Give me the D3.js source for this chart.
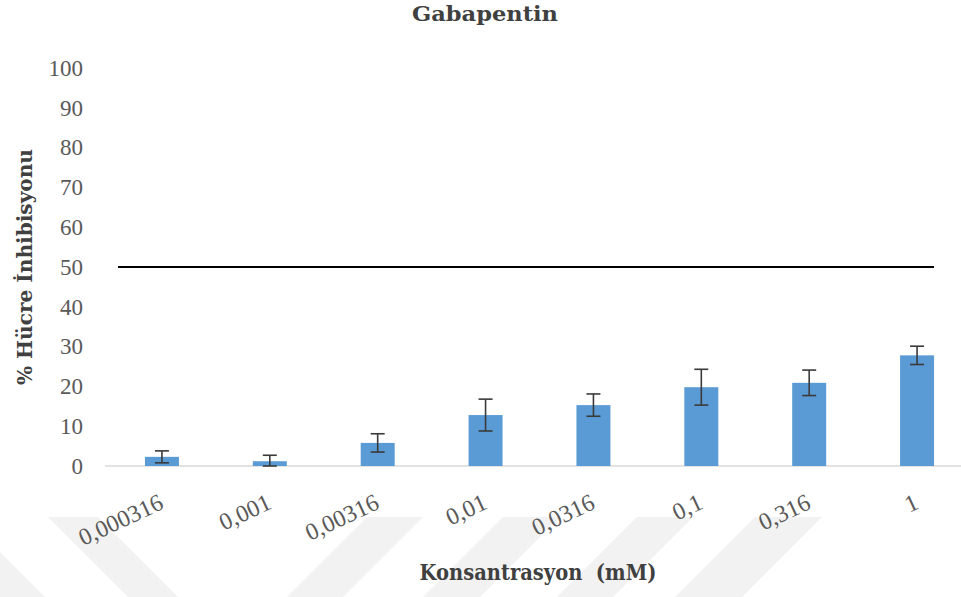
<!DOCTYPE html>
<html>
<head>
<meta charset="utf-8">
<script src="https://cdn.jsdelivr.net/npm/d3@7"></script>
<style>
  html, body { margin: 0; padding: 0; background: #ffffff; }
  svg { display: block; }
</style>
</head>
<body>
<svg id="chart" width="961" height="597"></svg>
<script>
// ---- data ----
const categories = ["0,000316", "0,001", "0,00316", "0,01", "0,0316", "0,1", "0,316", "1"];
const inhibition = [2.3, 1.2, 5.8, 12.8, 15.3, 19.8, 20.9, 27.8];
const errors = [1.5, 1.5, 2.3, 4.0, 2.8, 4.5, 3.2, 2.3];
const yTicks = [0, 10, 20, 30, 40, 50, 60, 70, 80, 90, 100];
const threshold = [50];
const chartTitle = "Gabapentin";
const xTitle = "Konsantrasyon  (mM)";
const yTitle = "% Hücre İnhibisyonu";

// ---- layout ----
const W = 961, H = 597;
const svg = d3.select("#chart");
const serif = "'Liberation Serif', 'Times New Roman', serif";
const boldSerif = "'DejaVu Serif', 'Liberation Serif', serif";

// faint watermark (background decoration)
const wm = svg.append("g").attr("fill", "#f2f2f2");
const stripes = [
  [-95, -35, 1], [48, 98, 1],
  [367, 423, -1], [503, 560, -1], [637, 693, -1], [755, 822, -1]
];
stripes.forEach(([a, b, d]) => {
  const dx = 80 * d;
  wm.append("path").attr("d", `M${a},517 L${b},517 L${b + dx},597 L${a + dx},597 Z`);
});

const x = d3.scaleBand()
  .domain(categories)
  .range([108, 971])
  .paddingInner(0.685)
  .paddingOuter(0.3425);

const y = d3.scaleLinear().domain([0, 100]).range([466, 68]);

// y tick labels
const yAxis = d3.axisLeft(y).tickValues(yTicks).tickSize(0).tickPadding(0);
const yg = svg.append("g").attr("transform", "translate(83,0)").call(yAxis);
yg.select(".domain").remove();
yg.selectAll("text")
  .attr("font-family", serif)
  .attr("font-size", 23)
  .attr("fill", "#595959");

// baseline
svg.append("line")
  .attr("x1", 105).attr("x2", W)
  .attr("y1", y(0)).attr("y2", y(0))
  .attr("stroke", "#d9d9d9").attr("stroke-width", 1.5);

// bars
svg.append("g").selectAll("rect")
  .data(categories)
  .join("rect")
  .attr("x", d => x(d))
  .attr("width", x.bandwidth())
  .attr("y", (d, i) => y(inhibition[i]))
  .attr("height", (d, i) => y(0) - y(inhibition[i]))
  .attr("fill", "#5b9bd5");

// error bars
const eg = svg.append("g").attr("stroke", "#3a3a3a").attr("stroke-width", 1.6);
categories.forEach((c, i) => {
  const cx = x(c) + x.bandwidth() / 2;
  const lo = y(Math.max(0, inhibition[i] - errors[i]));
  const hi = y(inhibition[i] + errors[i]);
  eg.append("line").attr("x1", cx).attr("x2", cx).attr("y1", lo).attr("y2", hi);
  eg.append("line").attr("x1", cx - 7).attr("x2", cx + 7).attr("y1", hi).attr("y2", hi);
  eg.append("line").attr("x1", cx - 7).attr("x2", cx + 7).attr("y1", lo).attr("y2", lo);
});

// 50% reference line
svg.append("g").selectAll("line")
  .data(threshold)
  .join("line")
  .attr("x1", 118).attr("x2", 934)
  .attr("y1", d => y(d)).attr("y2", d => y(d))
  .attr("stroke", "#000000").attr("stroke-width", 2);

// x tick labels (rotated)
const xAxis = d3.axisBottom(x).tickSize(0).tickPadding(0);
const xg = svg.append("g").call(xAxis);
xg.select(".domain").remove();
xg.selectAll(".tick text")
  .attr("font-family", serif)
  .attr("font-size", 24)
  .attr("fill", "#595959")
  .attr("text-anchor", "end")
  .attr("dy", 0)
  .attr("y", 0)
  .attr("transform", "translate(3,508) rotate(-25)");

// titles
svg.append("text")
  .attr("x", 485).attr("y", 21)
  .attr("text-anchor", "middle")
  .attr("font-family", boldSerif)
  .attr("font-weight", "bold")
  .attr("font-size", 20)
  .attr("fill", "#404040")
  .attr("textLength", 146)
  .attr("lengthAdjust", "spacingAndGlyphs")
  .text(chartTitle);

svg.append("text")
  .attr("x", 538).attr("y", 580)
  .attr("text-anchor", "middle")
  .attr("font-family", boldSerif)
  .attr("font-weight", "bold")
  .attr("font-size", 22)
  .attr("fill", "#404040")
  .attr("textLength", 237)
  .attr("lengthAdjust", "spacingAndGlyphs")
  .style("white-space", "pre")
  .text(xTitle);

svg.append("text")
  .attr("transform", "translate(32,267) rotate(-90)")
  .attr("text-anchor", "middle")
  .attr("font-family", boldSerif)
  .attr("font-weight", "bold")
  .attr("font-size", 21)
  .attr("fill", "#404040")
  .attr("textLength", 236)
  .attr("lengthAdjust", "spacingAndGlyphs")
  .text(yTitle);
</script>
</body>
</html>
